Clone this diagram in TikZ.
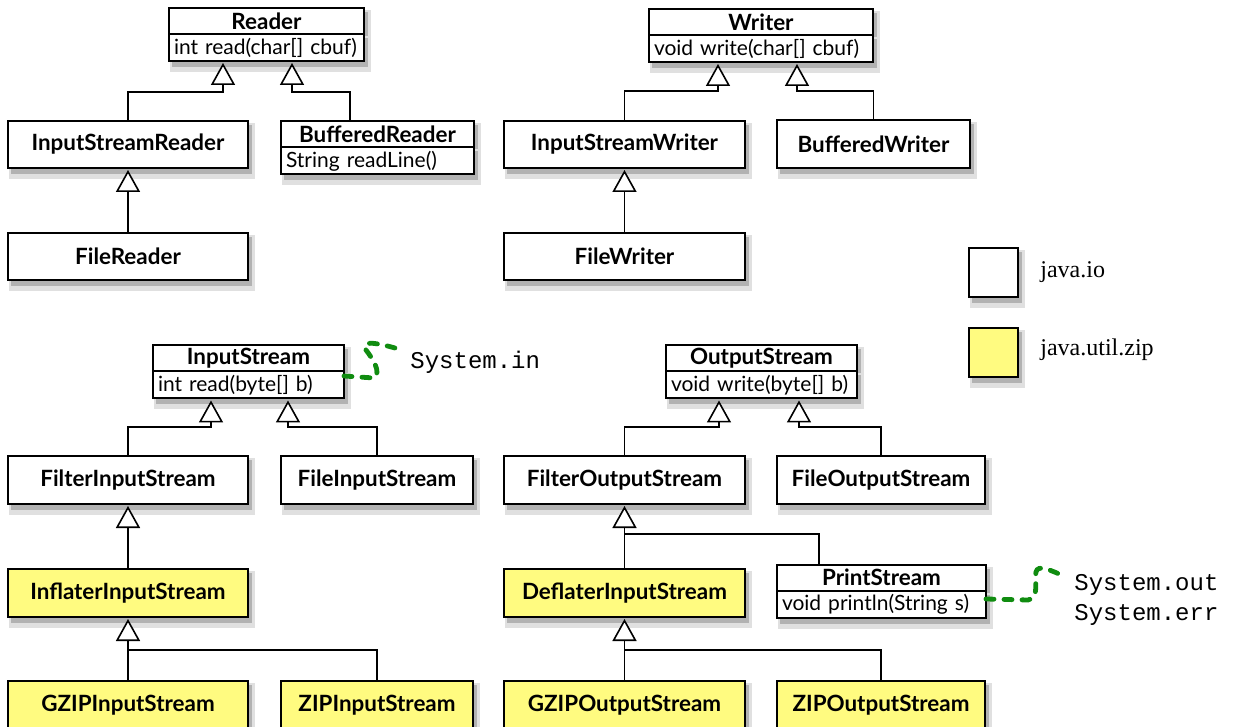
\documentclass[tikz,border=0pt]{standalone}
\usepackage{fontspec}
\setmainfont{Lato}
\newfontfamily\legendfont{Liberation Serif}
\newfontfamily\codefont{Liberation Mono}
\usetikzlibrary{arrows.meta,backgrounds}
\definecolor{zipyellow}{RGB}{255,251,128}
\definecolor{notegreen}{RGB}{16,140,16}
\tikzset{
    cls/.style={draw, line width=1pt, fill=white, inner sep=0pt, outer sep=0pt,
        font=\bfseries\fontsize{11.2}{13}\selectfont},
    zip/.style={cls, fill=zipyellow},
    title/.style={cls, minimum height=13pt},
    op/.style={cls, font=\fontsize{10.5}{12}\selectfont, align=left,
        inner xsep=2.5pt, minimum height=13.5pt, text width=#1, anchor=north},
    conn/.style={draw, line width=0.8pt},
    inherit/.style={conn, shorten >=1pt,
        -{Triangle[open, length=11pt, width=12pt, fill=white]}},
    note/.style={draw=notegreen, line width=2.4pt, line cap=round,
        dash pattern=on 4pt off 5pt},
    code/.style={font=\codefont\fontsize{12}{15}\selectfont, inner sep=0pt}
}
\begin{document}
\begin{tikzpicture}[x=0.5pt,y=-0.5pt]
    \useasboundingbox (0,0) rectangle (1233,727);
    %% Readers
    \node[title, minimum width=97.5pt] (reader) at (266.5,21) {Reader};
    \node[op=92.5pt] (readerop) at (reader.south) {int read(char[] cbuf)};
    \node[cls, minimum width=120pt, minimum height=23.5pt] (isr) at (128,144.5) {InputStreamReader};
    \node[title, minimum width=96.5pt] (br) at (377.5,134.5) {BufferedReader};
    \node[op=91.5pt] (brop) at (br.south) {String readLine()};
    \node[cls, minimum width=120pt, minimum height=23.5pt] (fr) at (128,256.5) {FileReader};
    %% Writers
    \node[title, minimum width=112pt] (writer) at (761,22) {Writer};
    \node[op=107pt] (writerop) at (writer.south) {void write(char[] cbuf)};
    \node[cls, minimum width=120.5pt, minimum height=23.5pt] (isw) at (624.5,144.5) {InputStreamWriter};
    \node[cls, minimum width=96.5pt, minimum height=24pt] (bw) at (873.5,144) {BufferedWriter};
    \node[cls, minimum width=120.5pt, minimum height=23.5pt] (fw) at (624.5,256.5) {FileWriter};
    %% Input streams
    \node[title, minimum width=95.5pt] (is) at (248.5,358.5) {InputStream};
    \node[op=90.5pt] (isop) at (is.south) {int read(byte[] b)};
    \node[cls, minimum width=120pt, minimum height=24pt] (filtin) at (128,480) {FilterInputStream};
    \node[cls, minimum width=96pt, minimum height=24pt] (filein) at (377,480) {FileInputStream};
    \node[zip, minimum width=120pt, minimum height=24pt] (infl) at (128,593) {InflaterInputStream};
    \node[zip, minimum width=120pt, minimum height=24pt] (gzipin) at (128,705) {GZIPInputStream};
    \node[zip, minimum width=96pt, minimum height=24pt] (zipin) at (377,705) {ZIPInputStream};
    %% Output streams
    \node[title, minimum width=95.5pt] (os) at (761.5,358.5) {OutputStream};
    \node[op=90.5pt] (osop) at (os.south) {void write(byte[] b)};
    \node[cls, minimum width=120.5pt, minimum height=24pt] (filtout) at (624.5,480) {FilterOutputStream};
    \node[cls, minimum width=104pt, minimum height=24pt] (fileout) at (881,480) {FileOutputStream};
    \node[zip, minimum width=120.5pt, minimum height=24pt] (defl) at (624.5,593) {DeflaterInputStream};
    \node[title, minimum width=104.5pt] (ps) at (881.5,577.5) {PrintStream};
    \node[op=99.5pt] (psop) at (ps.south) {void println(String s)};
    \node[zip, minimum width=120.5pt, minimum height=24pt] (gzipout) at (624.5,705) {GZIPOutputStream};
    \node[zip, minimum width=104pt, minimum height=24pt] (zipout) at (881,705) {ZIPOutputStream};
    %% Legend
    \node[cls, minimum size=24.5pt] (legio) at (993.5,272.5) {};
    \node[zip, minimum size=24.5pt] (legzip) at (993.5,352.5) {};
    \node[anchor=west, inner sep=0pt, font=\legendfont\fontsize{12}{14}\selectfont] (legiotxt) at (1040,272) {java.io};
    \node[anchor=west, inner sep=0pt, font=\legendfont\fontsize{12}{14}\selectfont] (legziptxt) at (1040,350) {java.util.zip};
    %% Shadows
    \begin{scope}[on background layer]
        \foreach \n in {reader,readerop,isr,br,brop,fr,writer,writerop,isw,bw,fw,
                is,isop,filtin,filein,infl,gzipin,zipin,os,osop,filtout,fileout,
                defl,ps,psop,gzipout,zipout,legio,legzip} {
            \fill[black!12] ([shift={(0.5pt,-5.5pt)}]\n.south west) rectangle ([shift={(3.5pt,-1pt)}]\n.north east);
            \fill[black!30] ([shift={(1.5pt,-3pt)}]\n.south west) rectangle ([shift={(2pt,-2pt)}]\n.north east);
        }
    \end{scope}
    %% Inheritance
    \coordinate (rl) at (223,92);
    \coordinate (rr) at (292,92);
    \draw[inherit] (isr.north) |- (rl) -- (rl |- readerop.south);
    \draw[inherit] ([xshift=-13.75pt]br.north) |- (rr) -- (rr |- readerop.south);
    \draw[inherit] (fr.north) -- (isr.south);
    \coordinate (wl) at (718,91);
    \coordinate (wr) at (797,91);
    \draw[inherit] (isw.north) |- (wl) -- (wl |- writerop.south);
    \draw[inherit] (bw.north) |- (wr) -- (wr |- writerop.south);
    \draw[inherit] (fw.north) -- (isw.south);
    \coordinate (il) at (211,427);
    \coordinate (ir) at (288,427);
    \draw[inherit] (filtin.north) |- (il) -- (il |- isop.south);
    \draw[inherit] (filein.north) |- (ir) -- (ir |- isop.south);
    \draw[inherit] (infl.north) -- (filtin.south);
    \draw[inherit] (gzipin.north) -- (infl.south);
    \coordinate (ij) at (128,650);
    \draw[conn] (zipin.north) |- (ij);
    \coordinate (ol) at (719,427);
    \coordinate (or) at (799,427);
    \draw[inherit] (filtout.north) |- (ol) -- (ol |- osop.south);
    \draw[inherit] (fileout.north) |- (or) -- (or |- osop.south);
    \draw[inherit] (defl.north) -- (filtout.south);
    \coordinate (pj) at (624.5,534);
    \draw[conn] ([xshift=-31.25pt]ps.north) |- (pj);
    \draw[inherit] (gzipout.north) -- (defl.south);
    \coordinate (dj) at (624.5,650);
    \draw[conn] (zipout.north) |- (dj);
    %% Standard streams
    \node[code, anchor=west] (sysin) at (410,362) {System.in};
    \node[code, anchor=west, align=left] (sysout) at (1074,600) {System.out\\System.err};
    \draw[note] ([yshift=4.5pt]isop.east) -- (374,378) .. controls (382,372) and (372,358) .. (366,350)
        .. controls (360,340) and (375,342) .. (402,350);
    \draw[note] ([yshift=2.5pt]psop.east) -- (1028,600) .. controls (1040,598) and (1034,580) .. (1036,572)
        .. controls (1038,564) and (1050,570) .. (1066,577);
\end{tikzpicture}
\end{document}
